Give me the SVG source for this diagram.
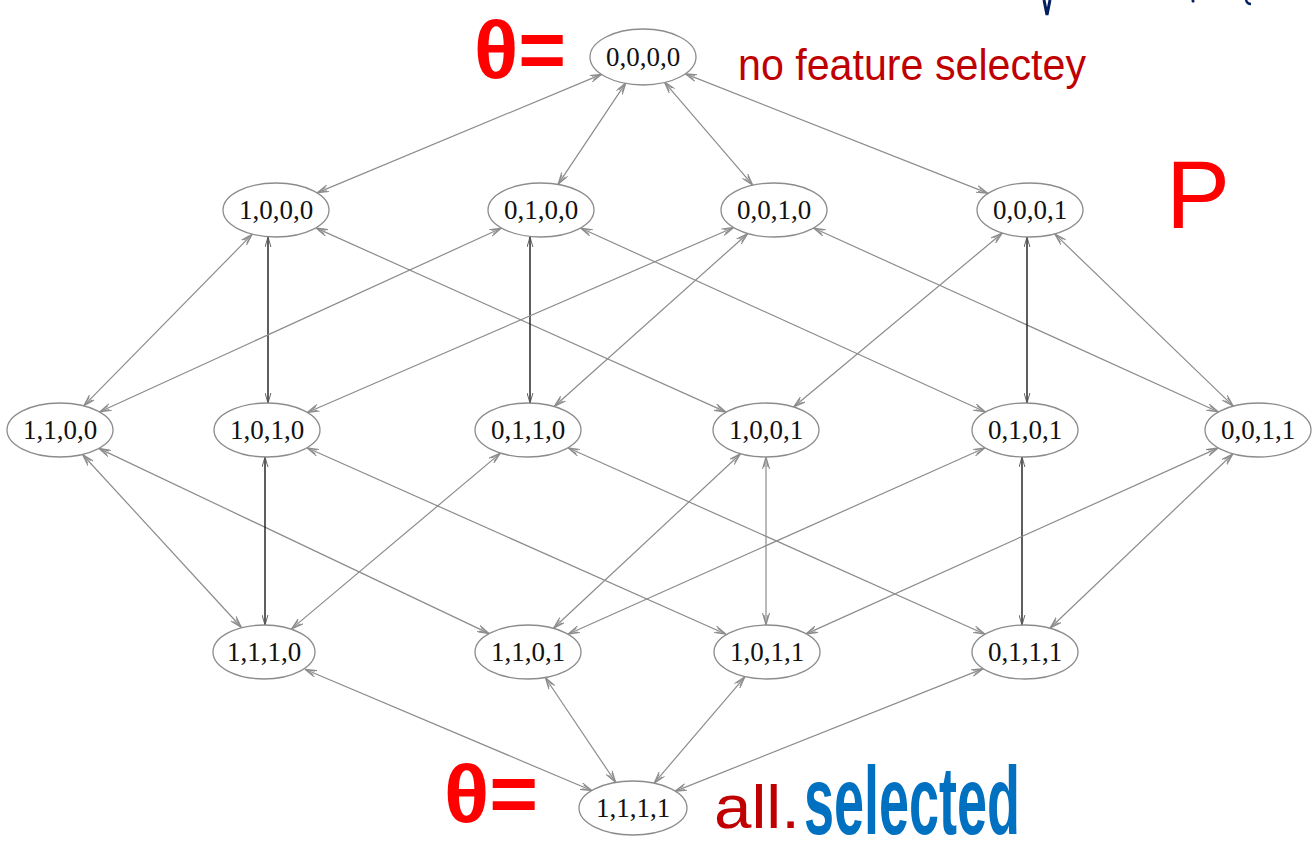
<svg xmlns="http://www.w3.org/2000/svg" width="1315" height="852" viewBox="0 0 1315 852">
<style>
  .node ellipse { fill: #ffffff; stroke: #8c8c8c; stroke-width: 1.3; }
  .node text { font-family: "Liberation Serif", "Times New Roman", serif; font-size: 27px; fill: #111; text-anchor: middle; dominant-baseline: central; }
  .edge { stroke: #8c8c8c; stroke-width: 1.2; fill: none; marker-start: url(#arr); marker-end: url(#arr); }
  .edge.dark { stroke: #1a1a1a; stroke-width: 1.4; marker-start: url(#arrd); marker-end: url(#arrd); }
  .red { fill: #ff0000; font-family: "Liberation Sans", Arial, sans-serif; }
  .dred { fill: #c00000; font-family: "Liberation Sans", Arial, sans-serif; }
  .blue { fill: #0070c0; font-family: "Liberation Sans", Arial, sans-serif; font-weight: bold; }
</style>
<defs>
  <marker id="arr" viewBox="0 0 12 8" refX="12" refY="4" markerWidth="12" markerHeight="8" markerUnits="userSpaceOnUse" orient="auto-start-reverse">
    <path d="M0,0.5 L12,4 L0,7.5 M2,2 L12,4 L2,6" fill="none" stroke="#8c8c8c" stroke-width="1.1"/>
  </marker>
  <marker id="arrd" viewBox="0 0 12 8" refX="12" refY="4" markerWidth="10" markerHeight="7" markerUnits="userSpaceOnUse" orient="auto-start-reverse">
    <path d="M0,0.5 L12,4 L0,7.5" fill="none" stroke="#555" stroke-width="1.1"/>
  </marker>
</defs>
<rect width="1315" height="852" fill="#ffffff"/>

<g id="connectors">
  <line class="edge" x1="602.0" y1="74.1" x2="317.0" y2="192.9"/>
  <line class="edge" x1="626.0" y1="82.6" x2="558.0" y2="184.4"/>
  <line class="edge" x1="664.2" y1="81.8" x2="752.8" y2="185.2"/>
  <line class="edge" x1="684.9" y1="73.6" x2="988.1" y2="193.4"/>

  <line class="edge" x1="252.3" y1="234.2" x2="83.7" y2="405.8"/>
  <line class="edge dark" x1="268" y1="237.0" x2="268" y2="403.0"/>
  <line class="edge" x1="315.8" y1="227.9" x2="726.2" y2="412.1"/>
  <line class="edge" x1="501.6" y1="228.0" x2="99.4" y2="412.0"/>
  <line class="edge dark" x1="530" y1="237.0" x2="530" y2="403.0"/>
  <line class="edge" x1="580.5" y1="228.0" x2="985.5" y2="412.0"/>
  <line class="edge" x1="733.7" y1="227.5" x2="307.3" y2="412.5"/>
  <line class="edge" x1="747.8" y1="233.5" x2="554.2" y2="406.5"/>
  <line class="edge" x1="813.5" y1="228.0" x2="1218.5" y2="412.0"/>
  <line class="edge" x1="1002.4" y1="233.0" x2="793.6" y2="407.0"/>
  <line class="edge dark" x1="1027" y1="237.0" x2="1027" y2="403.0"/>
  <line class="edge" x1="1054.7" y1="233.9" x2="1233.3" y2="406.1"/>

  <line class="edge" x1="82.5" y1="454.5" x2="241.5" y2="627.5"/>
  <line class="edge" x1="98.8" y1="448.4" x2="489.2" y2="633.6"/>
  <line class="edge dark" x1="265" y1="457.0" x2="265" y2="625.0"/>
  <line class="edge" x1="306.9" y1="447.8" x2="726.1" y2="634.2"/>
  <line class="edge" x1="500.5" y1="453.1" x2="291.5" y2="628.9"/>
  <line class="edge" x1="567.9" y1="447.8" x2="985.1" y2="634.2"/>
  <line class="edge" x1="740.6" y1="453.7" x2="553.4" y2="628.3"/>
  <line class="edge" x1="766.0" y1="457.0" x2="766.0" y2="625.0"/>
  <line class="edge" x1="985.1" y1="447.8" x2="567.9" y2="634.2"/>
  <line class="edge dark" x1="1022" y1="457.0" x2="1022" y2="625.0"/>
  <line class="edge" x1="1218.3" y1="447.9" x2="805.7" y2="634.1"/>
  <line class="edge" x1="1233.0" y1="453.8" x2="1050.0" y2="628.2"/>

  <line class="edge" x1="304.8" y1="669.2" x2="592.2" y2="790.8"/>
  <line class="edge" x1="545.2" y1="677.5" x2="615.8" y2="782.5"/>
  <line class="edge" x1="744.9" y1="676.8" x2="654.1" y2="783.2"/>
  <line class="edge" x1="983.2" y1="668.6" x2="674.8" y2="791.4"/>
</g>

<g id="n0000" class="node"><ellipse cx="643" cy="57" rx="53" ry="28"/><text x="643" y="57">0,0,0,0</text></g>
<g id="n1000" class="node"><ellipse cx="276" cy="210" rx="53" ry="27"/><text x="276" y="210">1,0,0,0</text></g>
<g id="n0100" class="node"><ellipse cx="541" cy="210" rx="53" ry="27"/><text x="541" y="210">0,1,0,0</text></g>
<g id="n0010" class="node"><ellipse cx="774" cy="210" rx="53" ry="27"/><text x="774" y="210">0,0,1,0</text></g>
<g id="n0001" class="node"><ellipse cx="1030" cy="210" rx="53" ry="27"/><text x="1030" y="210">0,0,0,1</text></g>
<g id="n1100" class="node"><ellipse cx="60" cy="430" rx="53" ry="27"/><text x="60" y="430">1,1,0,0</text></g>
<g id="n1010" class="node"><ellipse cx="267" cy="430" rx="53" ry="27"/><text x="267" y="430">1,0,1,0</text></g>
<g id="n0110" class="node"><ellipse cx="528" cy="430" rx="53" ry="27"/><text x="528" y="430">0,1,1,0</text></g>
<g id="n1001" class="node"><ellipse cx="766" cy="430" rx="53" ry="27"/><text x="766" y="430">1,0,0,1</text></g>
<g id="n0101" class="node"><ellipse cx="1025" cy="430" rx="53" ry="27"/><text x="1025" y="430">0,1,0,1</text></g>
<g id="n0011" class="node"><ellipse cx="1258" cy="430" rx="53" ry="27"/><text x="1258" y="430">0,0,1,1</text></g>
<g id="n1110" class="node"><ellipse cx="264" cy="652" rx="51" ry="27"/><text x="264" y="652">1,1,1,0</text></g>
<g id="n1101" class="node"><ellipse cx="528" cy="652" rx="53" ry="27"/><text x="528" y="652">1,1,0,1</text></g>
<g id="n1011" class="node"><ellipse cx="767" cy="652" rx="53" ry="27"/><text x="767" y="652">1,0,1,1</text></g>
<g id="n0111" class="node"><ellipse cx="1025" cy="652" rx="53" ry="27"/><text x="1025" y="652">0,1,1,1</text></g>
<g id="n1111" class="node"><ellipse cx="633" cy="808" rx="54" ry="27"/><text x="633" y="808">1,1,1,1</text></g>

<g id="annotations">
  <text class="red" x="474" y="78" font-size="82" font-weight="bold" textLength="92" lengthAdjust="spacingAndGlyphs">θ=</text>
  <text class="dred" x="738" y="80" font-size="44" textLength="348" lengthAdjust="spacingAndGlyphs">no feature selectey</text>
  <text class="red" x="1166" y="228" font-size="96">P</text>
  <text class="red" x="444" y="822" font-size="82" font-weight="bold" textLength="94" lengthAdjust="spacingAndGlyphs">θ=</text>
  <text class="dred" x="714" y="828" font-size="62" textLength="86" lengthAdjust="spacingAndGlyphs">all.</text>
  <text class="blue" x="804" y="834" font-size="96" textLength="216" lengthAdjust="spacingAndGlyphs">selected</text>
  <path d="M1044,0 L1047,15 L1050,0" fill="none" stroke="#002060" stroke-width="3"/>
  <path d="M1192,0 L1194,2" fill="none" stroke="#002060" stroke-width="2.5"/>
  <path d="M1246,0 Q1247,4 1251,4" fill="none" stroke="#002060" stroke-width="2.5"/>
</g>
</svg>
